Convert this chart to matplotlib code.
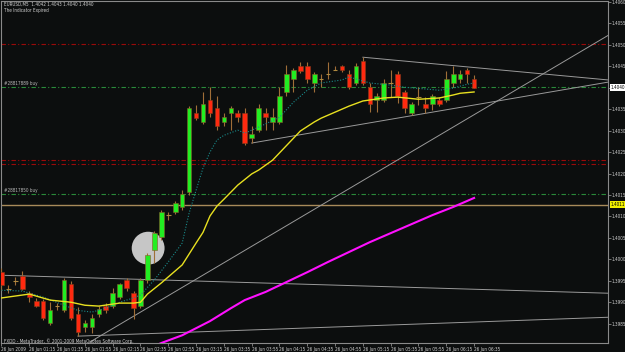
import matplotlib
matplotlib.use('Agg')
import matplotlib.pyplot as plt
import matplotlib.transforms as mtransforms
from matplotlib import font_manager

# --- DANE: EURUSD M5, 26 Jun 2009, bary 00:55 .. 06:35 ---
opens = [1.39970, 1.39931, 1.39949, 1.39961, 1.39921, 1.39903, 1.39903, 1.39851, 1.39891, 1.39881,
         1.39942, 1.39872, 1.39842, 1.39842, 1.39872, 1.39891, 1.39891, 1.39912, 1.39952, 1.39921,
         1.39891, 1.39952, 1.40022, 1.40052, 1.40103, 1.40110, 1.40122, 1.40157, 1.40341, 1.40320,
         1.40371, 1.40352, 1.40320, 1.40341, 1.40341, 1.40341, 1.40282, 1.40301, 1.40341, 1.40320,
         1.40320, 1.40390, 1.40420, 1.40450, 1.40450, 1.40411, 1.40420, 1.40432, 1.40441, 1.40450,
         1.40432, 1.40411, 1.40462, 1.40401, 1.40371, 1.40371, 1.40411, 1.40432, 1.40390, 1.40341,
         1.40378, 1.40362, 1.40362, 1.40371, 1.40371, 1.40411, 1.40420, 1.40441, 1.40420]
highs = [1.39980, 1.39940, 1.39959, 1.39973, 1.39926, 1.39910, 1.39907, 1.39900, 1.39898, 1.39956,
         1.39949, 1.39889, 1.39858, 1.39872, 1.39891, 1.39898, 1.39933, 1.39945, 1.39956, 1.39926,
         1.39956, 1.40015, 1.40066, 1.40115, 1.40110, 1.40136, 1.40161, 1.40357, 1.40359, 1.40390,
         1.40401, 1.40380, 1.40341, 1.40357, 1.40348, 1.40352, 1.40310, 1.40362, 1.40352, 1.40352,
         1.40401, 1.40453, 1.40446, 1.40460, 1.40460, 1.40436, 1.40432, 1.40460, 1.40450, 1.40453,
         1.40441, 1.40457, 1.40471, 1.40411, 1.40387, 1.40420, 1.40441, 1.40439, 1.40394, 1.40366,
         1.40401, 1.40378, 1.40385, 1.40378, 1.40439, 1.40450, 1.40441, 1.40446, 1.40430]
lows = [1.39928, 1.39921, 1.39940, 1.39928, 1.39900, 1.39889, 1.39858, 1.39846, 1.39881, 1.39877,
        1.39858, 1.39821, 1.39830, 1.39828, 1.39865, 1.39874, 1.39886, 1.39907, 1.39926, 1.39861,
        1.39886, 1.39945, 1.39991, 1.40045, 1.40091, 1.40105, 1.40115, 1.40150, 1.40324, 1.40315,
        1.40331, 1.40301, 1.40310, 1.40301, 1.40320, 1.40266, 1.40271, 1.40296, 1.40301, 1.40301,
        1.40315, 1.40380, 1.40390, 1.40434, 1.40411, 1.40390, 1.40401, 1.40420, 1.40441, 1.40436,
        1.40396, 1.40406, 1.40406, 1.40343, 1.40343, 1.40366, 1.40378, 1.40364, 1.40341, 1.40336,
        1.40359, 1.40341, 1.40348, 1.40357, 1.40366, 1.40401, 1.40411, 1.40411, 1.40400]
closes = [1.39940, 1.39931, 1.39949, 1.39931, 1.39912, 1.39891, 1.39863, 1.39881, 1.39891, 1.39952,
          1.39863, 1.39830, 1.39851, 1.39863, 1.39884, 1.39881, 1.39921, 1.39942, 1.39933, 1.39886,
          1.39952, 1.40010, 1.40061, 1.40110, 1.40103, 1.40131, 1.40152, 1.40352, 1.40329, 1.40362,
          1.40341, 1.40310, 1.40331, 1.40352, 1.40331, 1.40271, 1.40292, 1.40352, 1.40331, 1.40331,
          1.40380, 1.40432, 1.40441, 1.40439, 1.40420, 1.40432, 1.40420, 1.40432, 1.40441, 1.40441,
          1.40401, 1.40450, 1.40411, 1.40362, 1.40380, 1.40411, 1.40411, 1.40380, 1.40352, 1.40362,
          1.40378, 1.40352, 1.40380, 1.40362, 1.40420, 1.40432, 1.40432, 1.40432, 1.40400]

# srednie (indeks baru, cena)
ma_slow_bars = [0, 4, 7, 10, 12, 14, 17, 19, 20, 21, 23, 26, 28, 29, 30, 31, 32, 34, 36, 37,
                39, 40, 42, 43, 45, 46, 48, 50, 52, 55, 57, 60, 63, 65, 66, 68]
ma_slow = [1.39910, 1.39919, 1.39905, 1.39900, 1.39893, 1.39891, 1.39898, 1.39898, 1.39900, 1.39919,
           1.39945, 1.39987, 1.40038, 1.40063, 1.40101, 1.40124, 1.40140, 1.40173, 1.40199, 1.40208,
           1.40231, 1.40248, 1.40282, 1.40299, 1.40320, 1.40329, 1.40343, 1.40357, 1.40369, 1.40376,
           1.40378, 1.40373, 1.40376, 1.40383, 1.40387, 1.40390]
ma_fast_bars = [0, 3, 6, 9, 11, 13, 15, 17, 19, 20, 22, 24, 26, 27, 28, 29, 30, 31, 32, 34,
                35, 37, 40, 42, 44, 46, 49, 50, 53, 56, 58, 61, 63, 65, 67, 68]
ma_fast = [1.39928, 1.39926, 1.39912, 1.39893, 1.39881, 1.39877, 1.39886, 1.39900, 1.39910, 1.39917,
           1.39952, 1.39994, 1.40038, 1.40108, 1.40161, 1.40213, 1.40250, 1.40278, 1.40289, 1.40301,
           1.40294, 1.40308, 1.40331, 1.40366, 1.40394, 1.40411, 1.40418, 1.40425, 1.40411, 1.40406,
           1.40401, 1.40397, 1.40394, 1.40399, 1.40408, 1.40411]
ma_long_bars = [22, 23, 26, 30, 33, 35, 38, 41, 44, 47, 50, 53, 56, 59, 62, 65, 68]
ma_long = [1.39798, 1.39805, 1.39823, 1.39856, 1.39886, 1.39905, 1.39924, 1.39947, 1.39970, 1.39994,
           1.40017, 1.40040, 1.40061, 1.40082, 1.40103, 1.40122, 1.40143]

# linie trendu: (bar1, cena1, bar2, cena2)
trend_lines = [(12.7, 1.39807, 87.3, 1.40522),
               (11.0, 1.39821, 87.3, 1.39865),
               (-0.2, 1.39963, 87.3, 1.39921),
               (52.0, 1.40471, 87.3, 1.40418),
               (36.0, 1.40271, 87.3, 1.40413)]
red_levels = [1.40501, 1.40231, 1.40222]
order_levels = [1.40401, 1.40152]
order_labels = ['#28817889 buy', '#28817850 buy']
alert_level = 1.40127
alert_label = '1.4011'
bid_price = 1.40400
bid_label = '1.4040'
marker_bar, marker_price = 21.1, 1.40026

price_ticks = [1.3985, 1.3990, 1.3995, 1.4000, 1.4005, 1.4010, 1.4015, 1.4020, 1.4025,
               1.4030, 1.4035, 1.4040, 1.4045, 1.4050, 1.4055, 1.4060]
time_tick_bars = [0, 4, 8, 12, 16, 20, 24, 28, 32, 36, 40, 44, 48, 52, 56, 60, 64, 68]
time_tick_labels = ['26 Jun 2009', '26 Jun 01:15', '26 Jun 01:35', '26 Jun 01:55', '26 Jun 02:15',
                    '26 Jun 02:35', '26 Jun 02:55', '26 Jun 03:15', '26 Jun 03:35', '26 Jun 03:55',
                    '26 Jun 04:15', '26 Jun 04:35', '26 Jun 04:55', '26 Jun 05:15', '26 Jun 05:35',
                    '26 Jun 05:55', '26 Jun 06:15', '26 Jun 06:35']
header = 'EURUSD,M5  1.4042 1.4043 1.4040 1.4040'

# --- CZCIONKA: waska, jesli jest ---
fp = None
for f in font_manager.fontManager.ttflist:
    base = f.fname.split('/')[-1]
    if base in ('LiberationSansNarrow-Regular.ttf', 'DejaVuSansCondensed.ttf'):
        if fp is None or base.startswith('Liberation'):
            fp = font_manager.FontProperties(fname=f.fname)
            fs = 3.8 if base.startswith('Liberation') else 3.3
if fp is None:
    fp = font_manager.FontProperties(family='DejaVu Sans')
    fs = 3.05
fp.set_size(fs)

bg = '#0c0e0e'
txt = '#d0d0d0'
axis_col = '#8a8a8a'

W, H = 625, 352
fig = plt.figure(figsize=(W / 100, H / 100), dpi=100, facecolor=bg)
ax = fig.add_axes([1.5 / W, 9 / H, 606.5 / W, 342 / H], facecolor=bg)
ax.set_xlim(0, 87.27)
ax.set_ylim(1.39805, 1.40602)

for s in ax.spines.values():
    s.set_color(axis_col)
    s.set_linewidth(0.8)

# poziomy
for lv in red_levels:
    ax.axhline(lv, color='#9a0a0a', lw=0.8, dashes=(4, 2, 1, 2), zorder=1)
for lv, lab in zip(order_levels, order_labels):
    ax.axhline(lv, color='#2a8a3a', lw=0.8, dashes=(4, 2, 1, 2), zorder=1)
    ax.text(0.4, lv + 0.00002, lab, color='#b8b8b8', fontproperties=fp,
            va='bottom', ha='left', zorder=6)
ax.axhline(alert_level, color='#a88a5a', lw=1.0, zorder=1)

# linie trendu
for x1, y1, x2, y2 in trend_lines:
    ax.plot([x1, x2], [y1, y2], color='#9a9a9a', lw=0.7, zorder=1.5)

# kolko zaznaczenia
ax.scatter([marker_bar], [marker_price], s=560, color='#c6c6c6', edgecolors='none', zorder=2)

# swiece
wick_col = '#a06e38'
for i, (o, h, l, c) in enumerate(zip(opens, highs, lows, closes)):
    ax.vlines(i, l, h, color=wick_col, lw=0.8, zorder=3)
    if c > o:
        ax.bar(i, c - o, bottom=o, width=0.66, color='#22ee22', edgecolor='#8a5a2a', lw=0.4, zorder=4)
    elif c < o:
        ax.bar(i, o - c, bottom=c, width=0.66, color='#ff2a10', edgecolor='#8a3a1a', lw=0.4, zorder=4)
    else:
        ax.hlines(o, i - 0.33, i + 0.33, color='#b08a40', lw=0.8, zorder=4)

# srednie
ax.plot(ma_fast_bars, ma_fast, color='#1a8a8a', lw=0.8, ls=(0, (1, 1.5)), zorder=5)
ax.plot(ma_slow_bars, ma_slow, color='#e8e020', lw=1.0, zorder=5)
ax.plot(ma_long_bars, ma_long, color='#ff10ff', lw=1.5, zorder=5)

# osie
ax.yaxis.tick_right()
ax.set_yticks(price_ticks, ['' if f'{p:.4f}' == bid_label else f'{p:.4f}' for p in price_ticks])
ax.tick_params(axis='y', colors=axis_col, labelcolor=txt, length=2, width=0.6, pad=0.8)
ax.set_xticks(time_tick_bars, time_tick_labels)
ax.tick_params(axis='x', colors=axis_col, labelcolor=txt, length=2, width=0.6, pad=0.8)
for t in ax.get_xticklabels():
    t.set_ha('left')
    t.set_fontproperties(fp)
for t in ax.get_yticklabels():
    t.set_fontproperties(fp)

trans = mtransforms.blended_transform_factory(ax.transAxes, ax.transData)
ax.text(1.0045, bid_price, bid_label, transform=trans, fontproperties=fp, color='black', va='center',
        ha='left', bbox=dict(boxstyle='square,pad=0.2', fc='white', ec='none'), zorder=10, clip_on=False)
ax.text(1.0045, alert_level, alert_label, transform=trans, fontproperties=fp, color='black', va='center',
        ha='left', bbox=dict(boxstyle='square,pad=0.2', fc='#f0f000', ec='none'), zorder=10, clip_on=False)

# napisy
fig.text(4 / W, 1 - 4.5 / H, header, color=txt, fontproperties=fp, va='center', ha='left')
fig.text(4 / W, 1 - 10.5 / H, 'The Indicator Expired', color=txt, fontproperties=fp, va='center', ha='left')
fig.text(4 / W, 1 - 341 / H, 'FXDD - MetaTrader, \u00a9 2001-2009 MetaQuotes Software Corp.',
         color=txt, fontproperties=fp, va='center', ha='left')

fig.savefig('out.png', dpi=100, facecolor=bg)
